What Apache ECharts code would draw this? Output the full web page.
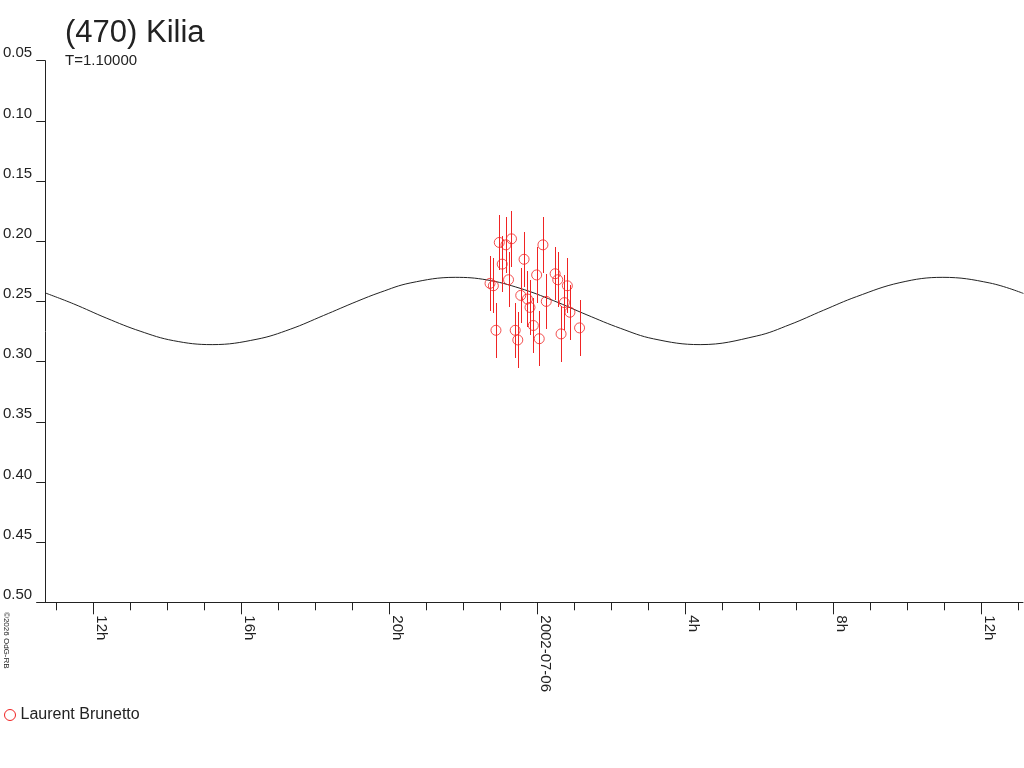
<!DOCTYPE html>
<html>
<head>
<meta charset="utf-8">
<title>(470) Kilia</title>
<script src="https://cdn.jsdelivr.net/npm/echarts@6/dist/echarts.min.js"></script>
<style>
  html, body { margin: 0; padding: 0; background: #fff; }
  #main { width: 1024px; height: 768px; }
</style>
</head>
<body>
<div id="main"></div>
<script>
// hours since 2002-07-05 00:00 (24 = 2002-07-06 0h)
var obsHours = [22.72, 22.81, 22.88, 22.97, 23.05, 23.15, 23.22, 23.30, 23.40, 23.47,
                23.55, 23.64, 23.73, 23.80, 23.89, 23.98, 24.05, 24.15, 24.24, 24.48,
                24.55, 24.64, 24.73, 24.81, 24.88, 25.14]
var obsMag = [0.235, 0.237, 0.274, 0.201, 0.219, 0.203, 0.232, 0.198, 0.274, 0.282,
              0.245, 0.215, 0.248, 0.255, 0.270, 0.228, 0.281, 0.203, 0.250, 0.227,
              0.232, 0.277, 0.251, 0.237, 0.259, 0.272]
var obsErr = [0.023, 0.023, 0.023, 0.023, 0.023, 0.023, 0.023, 0.023, 0.023, 0.023,
              0.023, 0.023, 0.023, 0.023, 0.023, 0.023, 0.023, 0.023, 0.023, 0.022,
              0.023, 0.023, 0.023, 0.023, 0.023, 0.023]

// fitted curve
var curveHours = [10.70, 11.46, 12.36, 13.26, 14.16, 15.21, 16.42, 17.32, 18.22, 19.12,
                  19.75, 20.56, 21.78, 22.63, 23.53, 24.43, 25.34, 26.24, 27.14, 28.40,
                  29.93, 30.83, 31.73, 32.63, 33.80, 34.96, 36.23, 37.14]
var curveMag = [0.2430, 0.2520, 0.2640, 0.2747, 0.2826, 0.2859, 0.2814, 0.2731, 0.2617, 0.2500,
                0.2425, 0.2347, 0.2300, 0.2321, 0.2391, 0.2493, 0.2612, 0.2723, 0.2811, 0.2859,
                0.2787, 0.2692, 0.2574, 0.2460, 0.2344, 0.2300, 0.2347, 0.2434]

var tickHours = [11, 12, 13, 14, 15, 16, 17, 18, 19, 20, 21, 22, 23, 24,
                 25, 26, 27, 28, 29, 30, 31, 32, 33, 34, 35, 36, 37]
var labelHours = [12, 16, 20, 24, 28, 32, 36]
var labelTexts = ['12h', '16h', '20h', '2002-07-06', '4h', '8h', '12h']

var observer = 'Laurent Brunetto'
var red = '#f02424'
var ink = '#222'
var font = '"Liberation Sans", Arial, sans-serif'

var myChart

function initChart() {

    myChart = echarts.init(document.getElementById('main'), null, { renderer: 'canvas' })

    var points = []
    var curve = []
    for (var i = 0; i < obsHours.length; i++) {
        points.push([obsHours[i], obsMag[i], obsErr[i]])
    }
    for (var j = 0; j < curveHours.length; j++) {
        curve.push([curveHours[j], curveMag[j]])
    }

    var xMin = 10.695, xMax = 37.127

    var option = {
        animation: false,
        backgroundColor: '#fff',
        textStyle: { fontFamily: font },
        title: {
            text: '(470) Kilia',
            subtext: 'T=1.10000',
            left: 65,
            top: 18,
            itemGap: 4,
            padding: 0,
            textStyle: { fontSize: 31, fontWeight: 'normal', color: ink, fontFamily: font },
            subtextStyle: { fontSize: 15, color: ink, fontFamily: font }
        },
        legend: {
            data: [{ name: observer, icon: 'circle' }],
            left: 4,
            top: 707,
            padding: 0,
            itemWidth: 11,
            itemHeight: 11,
            itemStyle: { color: 'transparent', borderColor: red, borderWidth: 1 },
            textStyle: { fontSize: 16, color: ink, fontFamily: font }
        },
        graphic: [{
            type: 'text',
            x: 10,
            y: 612,
            rotation: -Math.PI / 2,
            style: { text: '\u00a92026 OdG-RB', fontSize: 8, fill: ink, fontFamily: font }
        }],
        grid: { left: 45, right: 1, top: 60.7, bottom: 165.7 },
        xAxis: [{
            type: 'value',
            min: xMin,
            max: xMax,
            splitLine: { show: false },
            axisLine: { lineStyle: { color: ink, width: 1 } },
            axisTick: { customValues: tickHours, length: 8, lineStyle: { color: ink } },
            axisLabel: {
                customValues: labelHours,
                rotate: -90,
                margin: 13,
                verticalAlign: 'bottom',
                fontSize: 15,
                color: ink,
                formatter: function (v) {
                    return labelTexts[labelHours.indexOf(Math.round(v))]
                }
            }
        }, {
            type: 'value',
            position: 'bottom',
            min: xMin,
            max: xMax,
            splitLine: { show: false },
            axisLine: { show: false },
            axisTick: { customValues: labelHours, length: 12, lineStyle: { color: ink } },
            axisLabel: { show: false }
        }],
        yAxis: {
            type: 'value',
            inverse: true,
            min: 0.05,
            max: 0.5,
            interval: 0.05,
            splitLine: { show: false },
            axisLine: { show: true, lineStyle: { color: ink, width: 1 } },
            axisTick: { show: true, length: 9, lineStyle: { color: ink } },
            axisLabel: {
                margin: 13,
                verticalAlign: 'bottom',
                fontSize: 15,
                color: ink,
                formatter: function (v) { return v.toFixed(2) }
            }
        },
        series: [{
            type: 'line',
            name: 'fit',
            data: curve,
            smooth: 0.4,
            showSymbol: false,
            symbol: 'none',
            silent: true,
            lineStyle: { color: ink, width: 1 },
            z: 1
        }, {
            type: 'custom',
            name: observer,
            data: points,
            renderItem: function (params, api) {
                var top = api.coord([api.value(0), api.value(1) - api.value(2)])
                var bot = api.coord([api.value(0), api.value(1) + api.value(2)])
                var x = Math.round(top[0]) + 0.5
                return {
                    type: 'line',
                    shape: { x1: x, y1: Math.round(top[1]), x2: x, y2: Math.round(bot[1]) },
                    style: { stroke: red, lineWidth: 1, opacity: 1 }
                }
            },
            itemStyle: { color: red },
            z: 2
        }, {
            type: 'scatter',
            name: observer,
            data: points,
            symbol: 'circle',
            symbolSize: 10,
            itemStyle: { color: 'transparent', borderColor: red, borderWidth: 1 },
            z: 3
        }]
    }

    myChart.setOption(option)
}

initChart()
</script>
</body>
</html>
